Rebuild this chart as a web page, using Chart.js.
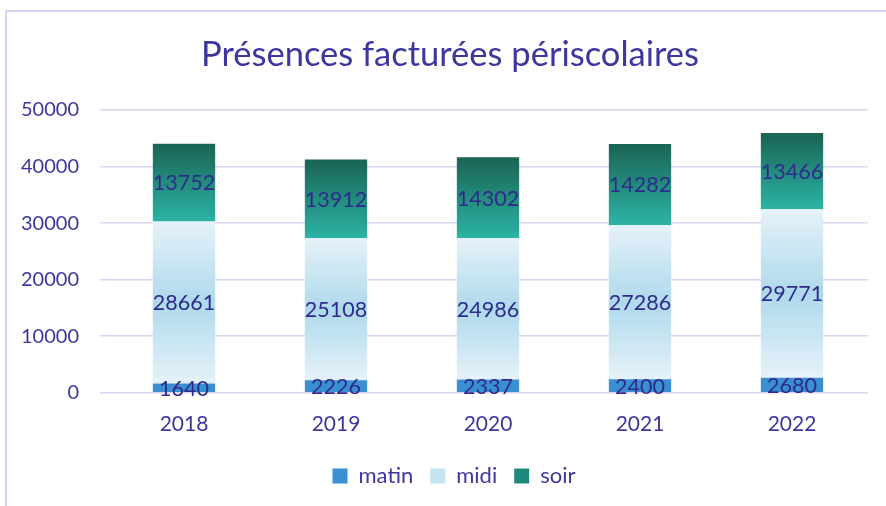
<!DOCTYPE html>
<html>
<head>
<meta charset="utf-8">
<script src="https://cdn.jsdelivr.net/npm/chart.js@4"></script>
<style>
  html, body { margin: 0; padding: 0; background: #fff; }
  #frame { position: absolute; left: 5px; top: 10px; width: 900px; height: 520px;
           border-left: 2px solid #d6d3f2; border-top: 2px solid #d6d3f2; }
  #wrap { position: absolute; left: 0; top: 0; width: 886px; height: 506px; }
  #title { position: absolute; left: 200px; width: 500px; top: 32px; text-align: center;
           font: 34.5px Lato, "Open Sans", sans-serif; color: #3b379f; white-space: nowrap;
           line-height: 42px; }
</style>
</head>
<body>
<div id="frame"></div>
<div id="wrap"><canvas id="c" width="886" height="506"></canvas></div>
<div id="title">Présences facturées périscolaires</div>
<script>
const years = ['2018', '2019', '2020', '2021', '2022'];
const matin = [1640, 2226, 2337, 2400, 2680];
const midi  = [28661, 25108, 24986, 27286, 29771];
const soir  = [13752, 13912, 14302, 14282, 13466];

const INK = '#3b379f';
const FONT = 'Lato, "Open Sans", sans-serif';

function segGradient(ctx, from, to, stops, fallback) {
  const chart = ctx.chart;
  if (!chart.chartArea || ctx.dataIndex === undefined) return fallback;
  const y = chart.scales.y;
  const i = ctx.dataIndex;
  const y0 = y.getPixelForValue(from[i]);
  const y1 = y.getPixelForValue(to[i]);
  const g = chart.ctx.createLinearGradient(0, y1, 0, y0);
  stops.forEach(s => g.addColorStop(s[0], s[1]));
  return g;
}

const midiBase = matin;
const midiTop  = matin.map((v, i) => v + midi[i]);
const soirTop  = midiTop.map((v, i) => v + soir[i]);

// étiquettes de valeur au centre de chaque segment
const valueLabels = {
  id: 'valueLabels',
  afterDatasetsDraw(chart) {
    const c = chart.ctx;
    c.save();
    c.font = '21.5px ' + FONT;
    c.fillStyle = '#2f2b8c';
    c.textAlign = 'center';
    c.textBaseline = 'middle';
    chart.data.datasets.forEach((ds, di) => {
      chart.getDatasetMeta(di).data.forEach((bar, i) => {
        const mid = (bar.y + bar.base) / 2;
        c.fillText(String(ds.data[i]), bar.x, mid + 1);
      });
    });
    c.restore();
  }
};

// légende un peu décalée vers la droite, comme dans l'original
const legendShift = {
  id: 'legendShift',
  afterLayout(chart) {
    chart.legend.left += 20;
    chart.legend.right += 20;
  }
};

new Chart(document.getElementById('c'), {
  type: 'bar',
  data: {
    labels: years,
    datasets: [
      { label: 'matin', data: matin, backgroundColor: '#3a8fd1', legendColor: '#3a8fd1' },
      { label: 'midi', data: midi, legendColor: '#c4e4f2',
        backgroundColor: ctx => segGradient(ctx, midiBase, midiTop,
          [[0, '#e6f2f9'], [0.5, '#aed9ec'], [1, '#e6f2f9']], '#c4e4f2') },
      { label: 'soir', data: soir, legendColor: '#1f8a7a',
        backgroundColor: ctx => segGradient(ctx, midiTop, soirTop,
          [[0, '#1a6455'], [1, '#2bb3a4']], '#1f8a7a') }
    ]
  },
  options: {
    responsive: false,
    animation: false,
    datasets: { bar: { categoryPercentage: 0.41, barPercentage: 1 } },
    layout: { padding: { left: 0, right: 18, top: 110, bottom: 9 } },
    scales: {
      x: { stacked: true, grid: { display: false }, border: { display: false },
           ticks: { color: INK, font: { family: FONT, size: 21 }, padding: 11 } },
      y: { stacked: true, min: 0, max: 50000,
           grid: { color: '#d9d6f1', lineWidth: 1.5 },
           border: { display: false },
           ticks: { stepSize: 10000, color: INK, padding: 21, font: { family: FONT, size: 20 },
                    callback: v => String(v) } }
    },
    plugins: {
      title: { display: false },
      legend: { position: 'bottom',
                labels: { color: INK, boxWidth: 15, boxHeight: 15, padding: 17,
                          font: { family: FONT, size: 22 },
                          generateLabels: chart => chart.data.datasets.map((ds, i) => ({
                            text: ds.label, fillStyle: ds.legendColor, strokeStyle: ds.legendColor,
                            lineWidth: 0, fontColor: INK, datasetIndex: i })) } },
      tooltip: { enabled: false }
    }
  },
  plugins: [valueLabels, legendShift]
});
</script>
</body>
</html>
